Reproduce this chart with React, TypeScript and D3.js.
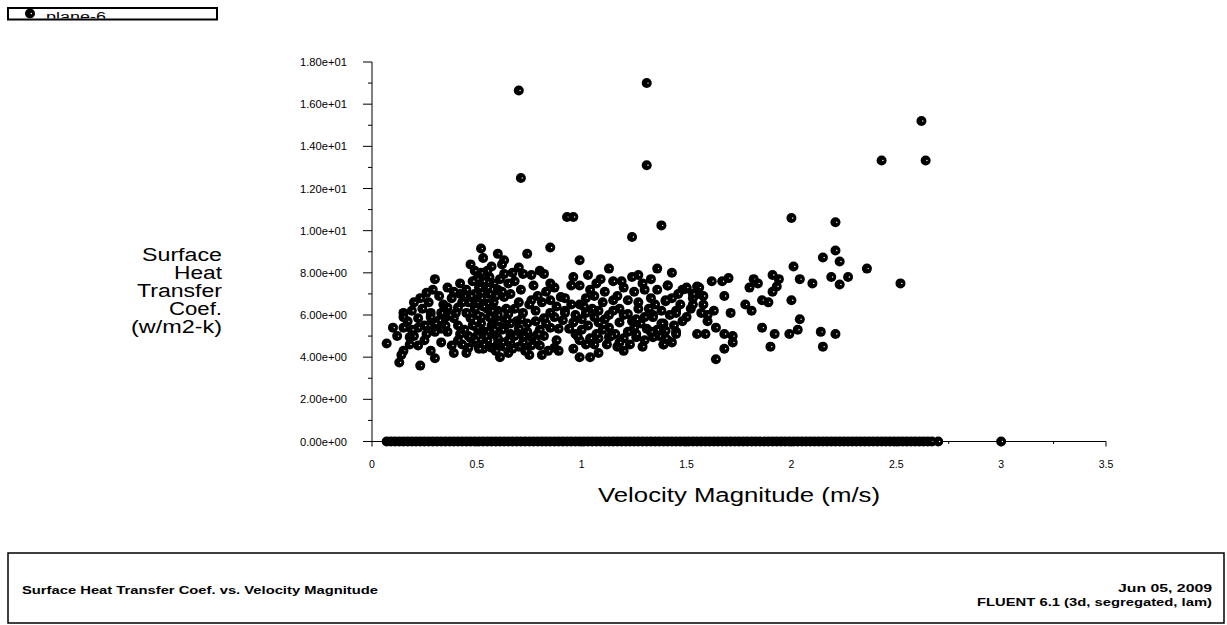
import React from "react";
import * as d3 from "d3";

const xTickValues = [0, 0.5, 1, 1.5, 2, 2.5, 3, 3.5];
const xTickLabels = ["0", "0.5", "1", "1.5", "2", "2.5", "3", "3.5"];
const xMinorTicks = [0.25, 0.75, 1.25, 1.75, 2.25, 2.75, 3.25];
const yTickValues = [0, 2, 4, 6, 8, 10, 12, 14, 16, 18];
const yTickLabels = ["0.00e+00", "2.00e+00", "4.00e+00", "6.00e+00", "8.00e+00", "1.00e+01", "1.20e+01", "1.40e+01", "1.60e+01", "1.80e+01"];
const yMinorTicks = [1, 3, 5, 7, 9, 11, 13, 15, 17];

const yTitleLines = ["Surface", "Heat", "Transfer", "Coef.", "(w/m2-k)"];
const yTitleWidths = [80, 48, 85, 53, 91];
const xTitle = "Velocity Magnitude (m/s)";
const seriesName = "plane-6";
const footerTitle = "Surface Heat Transfer Coef. vs. Velocity Magnitude";
const footerDate = "Jun 05, 2009";
const footerSolver = "FLUENT 6.1 (3d, segregated, lam)";

// points lying on zero heat transfer coefficient (velocity values)
const zeroVelocity = [0.07, 0.09, 0.11, 0.13, 0.15, 0.17, 0.19, 0.21, 0.23, 0.25, 0.27, 0.29, 0.31, 0.33, 0.35, 0.37, 0.39, 0.41, 0.43, 0.45, 0.47, 0.49, 0.51, 0.53, 0.55, 0.57, 0.59, 0.61, 0.63, 0.65, 0.67, 0.69, 0.71, 0.73, 0.75, 0.77, 0.79, 0.81, 0.83, 0.85, 0.87, 0.89, 0.91, 0.93, 0.95, 0.97, 0.99, 1.01, 1.03, 1.05, 1.07, 1.09, 1.11, 1.13, 1.15, 1.17, 1.19, 1.21, 1.23, 1.25, 1.27, 1.29, 1.31, 1.33, 1.35, 1.37, 1.39, 1.41, 1.43, 1.45, 1.47, 1.49, 1.51, 1.53, 1.55, 1.57, 1.59, 1.61, 1.63, 1.65, 1.67, 1.69, 1.71, 1.73, 1.75, 1.77, 1.79, 1.81, 1.83, 1.85, 1.87, 1.89, 1.91, 1.93, 1.95, 1.97, 1.99, 2.01, 2.03, 2.05, 2.07, 2.09, 2.11, 2.13, 2.15, 2.17, 2.19, 2.21, 2.23, 2.25, 2.27, 2.29, 2.31, 2.33, 2.35, 2.37, 2.39, 2.41, 2.43, 2.45, 2.47, 2.49, 2.51, 2.53, 2.55, 2.57, 2.59, 2.61, 2.63, 2.65, 2.67, 2.7, 3.0];

// high outliers [velocity, coefficient]
const outliers: [number, number][] = [
  [0.7, 16.65], [1.31, 17.0], [1.31, 13.1], [0.71, 12.5], [0.93, 10.65], [0.96, 10.65],
  [1.38, 10.25], [1.24, 9.7], [2.43, 13.33], [2.62, 15.2], [2.64, 13.33], [2.0, 10.6], [2.21, 10.4],
];

// low-velocity part of the main cloud [velocity, coefficient]
const cloudLeft: [number, number][] = [
  [0.85, 9.2], [0.74, 8.9], [0.52, 9.15], [0.53, 8.7], [0.6, 8.9], [0.63, 8.6], [0.62, 8.4], [0.47, 8.4], [0.49, 8.1], [0.52, 8.0], [0.55, 8.1], [0.63, 7.95], [0.7, 8.25], [0.72, 7.95], [0.8, 8.1], [0.82, 7.95],
  [0.3, 7.7], [0.42, 7.5], [0.5, 7.7], [0.53, 7.6], [0.58, 7.5], [0.65, 7.5], [0.85, 7.5],
  [0.36, 7.3], [0.6, 7.2], [0.71, 7.2], [0.87, 7.3],
  [0.26, 7.05], [0.42, 7.0], [0.49, 7.0], [0.52, 7.05], [0.63, 6.85], [0.9, 6.85],
  [0.2, 6.6], [0.27, 6.6], [0.34, 6.5], [0.46, 6.6], [0.5, 6.6], [0.55, 6.55], [0.7, 6.6], [0.76, 6.7], [0.81, 6.6], [0.85, 6.7],
  [0.36, 6.35], [0.41, 6.35], [0.49, 6.3], [0.55, 6.3], [0.6, 6.2],
  [0.15, 6.1], [0.19, 6.2], [0.28, 6.1], [0.65, 6.05], [0.72, 6.1], [0.78, 6.2], [0.85, 6.1],
  [0.15, 5.9], [0.22, 5.85], [0.28, 5.9], [0.39, 5.85], [0.47, 5.85], [0.52, 5.9], [0.57, 5.85], [0.82, 5.85], [0.91, 5.75],
  [0.1, 5.4], [0.15, 5.4], [0.22, 5.4], [0.27, 5.5], [0.32, 5.75], [0.33, 5.35], [0.41, 5.5], [0.5, 5.4], [0.57, 5.5], [0.63, 5.4], [0.7, 5.35], [0.85, 5.4], [0.89, 5.35],
  [0.26, 5.1], [0.36, 5.2], [0.42, 5.1], [0.53, 5.2], [0.58, 5.1], [0.66, 5.1], [0.72, 5.0], [0.76, 4.95], [0.82, 5.0],
  [0.07, 4.65], [0.18, 4.95], [0.22, 4.55], [0.33, 4.7], [0.38, 4.55], [0.41, 4.8], [0.46, 4.45], [0.5, 4.65], [0.55, 4.55], [0.6, 4.65], [0.66, 4.65], [0.76, 4.55], [0.8, 4.55], [0.87, 4.45], [0.88, 4.8],
  [0.15, 4.3], [0.39, 4.2], [0.45, 4.2], [0.53, 4.4], [0.61, 4.0], [0.65, 4.2], [0.75, 4.1], [0.81, 4.1], [0.89, 4.3],
  [0.13, 3.75], [0.14, 4.1], [0.23, 3.6], [0.3, 3.95],
  [0.5, 5.0], [0.55, 4.8], [0.6, 4.9], [0.62, 5.3], [0.55, 5.2], [0.5, 6.0], [0.6, 5.7], [0.66, 5.6], [0.68, 5.0], [0.58, 6.6], [0.52, 6.8], [0.45, 6.1], [0.44, 5.3], [0.47, 4.9], [0.53, 4.6], [0.57, 4.45], [0.63, 4.5], [0.7, 4.5], [0.72, 4.7], [0.74, 5.2], [0.65, 4.8], [0.3, 5.6], [0.24, 6.3], [0.2, 5.0], [0.35, 5.9], [0.3, 5.2], [0.38, 6.8], [0.32, 6.9], [0.44, 6.9], [0.56, 7.0], [0.66, 7.0], [0.57, 8.3], [0.68, 6.3], [0.75, 6.5], [0.78, 5.7], [0.74, 5.6], [0.88, 6.4], [0.8, 5.3], [0.92, 6.2], [0.84, 4.3], [0.12, 5.0], [0.17, 5.7], [0.25, 4.8], [0.28, 4.3],
  [0.48, 5.5], [0.52, 5.6], [0.56, 5.9], [0.6, 6.0], [0.64, 5.8], [0.58, 5.3], [0.54, 5.0], [0.49, 4.8], [0.62, 4.7], [0.67, 4.4], [0.69, 5.7], [0.71, 5.8], [0.64, 6.3], [0.57, 6.2], [0.53, 6.4], [0.47, 6.9], [0.55, 7.3], [0.59, 6.9], [0.62, 7.1], [0.51, 7.3], [0.45, 7.2], [0.48, 7.6], [0.56, 7.8], [0.61, 7.7], [0.46, 5.0], [0.43, 4.6], [0.51, 4.4], [0.59, 4.3], [0.73, 4.3], [0.78, 4.8], [0.79, 5.1], [0.83, 5.6], [0.87, 5.9], [0.25, 5.5], [0.19, 5.3], [0.18, 4.6], [0.35, 5.5], [0.37, 6.0], [0.4, 6.1], [0.33, 6.1], [0.23, 6.8], [0.29, 7.2], [0.39, 7.1], [0.43, 6.6], [0.79, 6.9], [0.83, 7.1], [0.77, 7.4], [0.68, 7.6], [0.76, 7.9], [0.67, 8.0],
];

// mid-velocity part of the main cloud
const cloudMid: [number, number][] = [
  [0.99, 8.6], [1.13, 8.2], [1.15, 7.6], [0.96, 7.8], [1.03, 7.9], [0.95, 7.4], [0.99, 7.4], [1.24, 7.8], [1.27, 7.9], [1.29, 7.5], [1.36, 8.2], [1.3, 7.2], [1.36, 7.2], [1.41, 7.4], [1.04, 7.2], [1.11, 7.1], [1.02, 6.8], [1.15, 6.7], [1.22, 6.7], [1.27, 6.6], [1.35, 6.5], [1.4, 6.65], [0.99, 6.5], [1.05, 6.3], [1.15, 6.2], [1.22, 6.05], [1.34, 6.0], [1.45, 6.2], [1.48, 7.2], [1.5, 7.25], [1.55, 7.35], [1.56, 7.0], [1.53, 6.8], [1.58, 6.5],
  [1.48, 5.7], [0.96, 5.65], [1.0, 5.8], [0.94, 5.35], [1.0, 5.3], [1.08, 5.65], [1.13, 5.4], [1.18, 5.65], [1.24, 5.7], [1.28, 5.6], [1.31, 5.35], [1.34, 5.9], [1.39, 5.6], [1.4, 5.25], [1.45, 5.2], [0.99, 4.8], [1.04, 4.9], [1.08, 4.9], [1.13, 4.95], [1.2, 4.9], [1.26, 4.95], [1.34, 4.95], [1.39, 4.6], [1.41, 4.8], [0.99, 4.0], [1.04, 4.0], [1.08, 4.2], [1.17, 4.5], [1.2, 4.3], [1.29, 4.5], [0.92, 6.8], [0.92, 6.1],
  [0.97, 6.0], [1.02, 6.1], [1.06, 5.9], [1.1, 5.3], [0.97, 5.1], [1.03, 5.5], [1.06, 4.6], [0.96, 4.4], [1.12, 4.6], [1.16, 5.1], [1.22, 5.2], [1.25, 5.4], [1.18, 6.3], [1.1, 6.6], [1.07, 7.5], [1.2, 7.3], [1.33, 6.8], [1.27, 6.3], [1.42, 6.0], [1.44, 5.5], [1.36, 5.3], [1.3, 4.8], [1.5, 5.9], [1.52, 6.3], [1.6, 6.0],
  [0.98, 5.0], [1.02, 4.6], [1.07, 5.1], [1.11, 5.8], [1.14, 5.0], [1.18, 4.7], [1.23, 4.6], [1.26, 5.1], [1.33, 5.2], [1.37, 5.0], [1.43, 4.7], [1.3, 5.9], [1.26, 5.8], [1.2, 6.0], [1.13, 6.0], [1.08, 6.2], [1.01, 6.4], [0.95, 6.5], [1.06, 6.9], [1.17, 6.9], [1.25, 7.1], [1.32, 6.3], [1.38, 6.2], [1.47, 6.5], [1.43, 6.8], [1.19, 7.6], [1.09, 7.7], [1.33, 7.7],
];

// high-velocity part of the main cloud
const cloudRight: [number, number][] = [
  [2.21, 9.06], [2.15, 8.73], [2.23, 8.54], [2.36, 8.2], [2.01, 8.3], [2.04, 7.7], [2.1, 7.5], [2.19, 7.8], [2.27, 7.8], [2.23, 7.45], [2.52, 7.5], [2.0, 6.7], [2.04, 5.8], [2.03, 5.3], [1.99, 5.1], [2.14, 5.2], [2.21, 5.1], [2.15, 4.5], [1.92, 5.1], [1.9, 4.5], [1.86, 5.4],
  [1.64, 3.9], [1.68, 4.4], [1.72, 4.7], [1.72, 5.0], [1.68, 5.1], [1.64, 5.4], [1.59, 5.1], [1.55, 5.1], [1.45, 5.1], [1.4, 4.9],
  [1.43, 8.0], [1.41, 7.4], [1.62, 7.6], [1.67, 7.6], [1.7, 7.75], [1.82, 7.7], [1.84, 7.5], [1.8, 7.3], [1.91, 7.9], [1.94, 7.7], [1.93, 7.35], [1.91, 7.1], [1.86, 6.7], [1.89, 6.6], [1.68, 6.9], [1.78, 6.5], [1.81, 6.2], [1.71, 6.1], [1.63, 6.2], [1.6, 5.7], [1.56, 7.3], [1.53, 7.0], [1.58, 6.9], [1.5, 7.3], [1.46, 7.0], [1.4, 6.7], [1.45, 6.1], [1.53, 6.5], [1.57, 6.1], [1.38, 5.6], [1.39, 4.6],
];

const W = 1227;
const H = 625;
const FONT = "'Liberation Sans', Arial, sans-serif";

function Marker({ cx, cy }: { cx: number; cy: number }) {
  return (
    <g>
      <circle cx={cx} cy={cy} r={5} fill="#000" />
      <circle cx={cx + 1.3} cy={cy} r={0.7} fill="#fff" />
    </g>
  );
}

export default function App() {
  const x = d3.scaleLinear().domain([0, 3.5]).range([372, 1106]);
  const y = d3.scaleLinear().domain([0, 18]).range([441.5, 62]);
  const x0 = x(0);
  const y0 = y(0);

  const cloud = [...cloudLeft, ...cloudMid, ...cloudRight, ...outliers];

  return (
    <svg
      width={W}
      height={H}
      viewBox={`0 0 ${W} ${H}`}
      style={{ position: "absolute", left: 0, top: 0, background: "#fff" }}
    >
      <rect x={0} y={0} width={W} height={H} fill="#fff" />
      <defs>
        <clipPath id="legendClip">
          <rect x={9} y={9} width={207} height={9.5} />
        </clipPath>
      </defs>

      {/* legend */}
      <g>
        <rect x={8} y={8} width={209} height={11.5} fill="none" stroke="#000" strokeWidth={2} />
        <g clipPath="url(#legendClip)">
          <Marker cx={30} cy={13.5} />
          <text x={46} y={21} fontFamily={FONT} fontSize={12} fill="#000" textLength={60} lengthAdjust="spacingAndGlyphs">{seriesName}</text>
        </g>
      </g>

      {/* axes */}
      <line x1={x0} y1={y(18)} x2={x0} y2={y0} stroke="#000" strokeWidth={1} />
      <line x1={x0} y1={y0} x2={x(3.5)} y2={y0} stroke="#000" strokeWidth={1} />
      {yTickValues.map((v, i) => (
        <g key={"yt" + i}>
          <line x1={x0 - 9} x2={x0} y1={y(v)} y2={y(v)} stroke="#000" />
          <text x={347} y={y(v) + 4} textAnchor="end" fontFamily={FONT} fontSize={10.5} fill="#000" textLength={47} lengthAdjust="spacingAndGlyphs">{yTickLabels[i]}</text>
        </g>
      ))}
      {yMinorTicks.map((v, i) => (
        <line key={"ym" + i} x1={x0 - 4} x2={x0} y1={y(v)} y2={y(v)} stroke="#000" />
      ))}
      {xTickValues.map((v, i) => (
        <g key={"xt" + i}>
          <line x1={x(v)} x2={x(v)} y1={y0} y2={y0 + 5} stroke="#000" />
          <text x={x(v)} y={468} textAnchor="middle" fontFamily={FONT} fontSize={10.5} fill="#000">{xTickLabels[i]}</text>
        </g>
      ))}
      {xMinorTicks.map((v, i) => (
        <line key={"xm" + i} x1={x(v)} x2={x(v)} y1={y0} y2={y0 + 2.5} stroke="#000" />
      ))}

      {/* titles */}
      <text x={x(1.75)} y={502} textAnchor="middle" fontFamily={FONT} fontSize={20} fill="#000" textLength={282} lengthAdjust="spacingAndGlyphs">{xTitle}</text>
      {yTitleLines.map((t, i) => (
        <text key={"yl" + i} x={222} y={261 + i * 18} textAnchor="end" fontFamily={FONT} fontSize={18} fill="#000" textLength={yTitleWidths[i]} lengthAdjust="spacingAndGlyphs">{t}</text>
      ))}

      {/* data */}
      <g>
        {zeroVelocity.map((v, i) => (
          <Marker key={"z" + i} cx={x(v)} cy={y(0)} />
        ))}
        {cloud.map((p, i) => (
          <Marker key={"c" + i} cx={x(p[0])} cy={y(p[1])} />
        ))}
      </g>

      {/* footer */}
      <rect x={8} y={553} width={1216} height={70} fill="none" stroke="#000" strokeWidth={1.5} />
      <text x={22} y={594} fontFamily={FONT} fontSize={11} fontWeight="bold" fill="#000" textLength={356} lengthAdjust="spacingAndGlyphs">{footerTitle}</text>
      <text x={1212} y={592} textAnchor="end" fontFamily={FONT} fontSize={11} fontWeight="bold" fill="#000" textLength={94} lengthAdjust="spacingAndGlyphs">{footerDate}</text>
      <text x={1212} y={606} textAnchor="end" fontFamily={FONT} fontSize={11} fontWeight="bold" fill="#000" textLength={235} lengthAdjust="spacingAndGlyphs">{footerSolver}</text>
    </svg>
  );
}
